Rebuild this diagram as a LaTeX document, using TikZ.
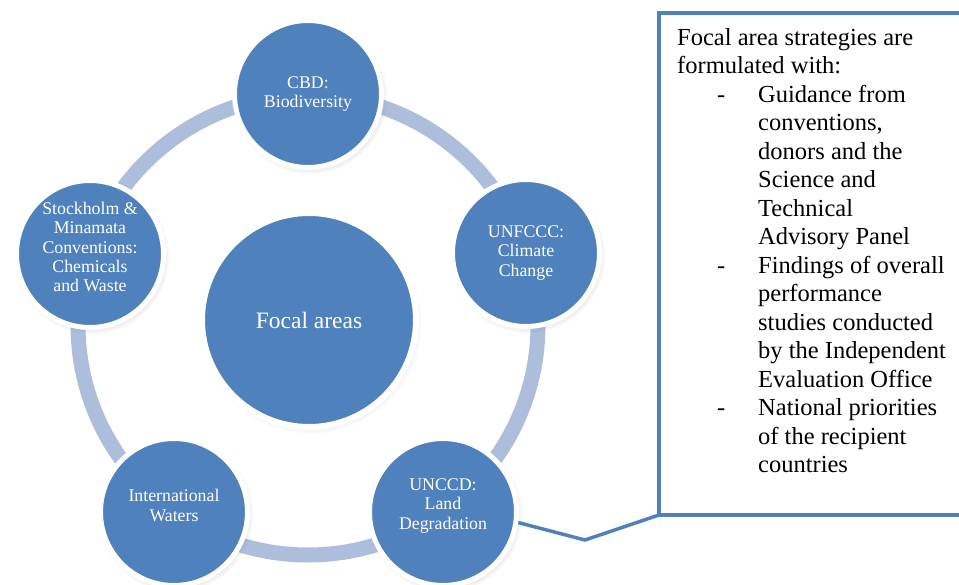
\documentclass[tikz,border=0pt]{standalone}
\usepackage{fontspec}
\setmainfont{Liberation Serif}
\usetikzlibrary{shadows}
\definecolor{gefblue}{RGB}{79,129,189}
\definecolor{ringblue}{RGB}{172,190,220}
\begin{document}
\begin{tikzpicture}[x=1pt,y=-1pt,
  outer/.style={circle, fill=gefblue, draw=white, line width=5pt, minimum size=147pt,
    inner sep=0pt, text=white, align=center, font=\fontsize{17.8}{19.2}\selectfont,
    circular drop shadow={shadow xshift=1.5pt, shadow yshift=-2.5pt, opacity=0.3, shadow scale=1.06}},
  hub/.style={circle, fill=gefblue, draw=white, line width=6pt, minimum size=214pt,
    inner sep=0pt, text=white, font=\fontsize{23.5}{27}\selectfont,
    circular drop shadow={shadow xshift=1.5pt, shadow yshift=-2.5pt, opacity=0.3, shadow scale=1.04}},
  ring/.style={line width=15pt, draw=ringblue},
  callout/.style={draw=gefblue, line width=3.5pt, outer sep=0pt, inner sep=0pt},
  pointer/.style={draw=gefblue, line width=3.5pt, line join=miter}
]
\useasboundingbox (0,0) rectangle (959,584);
\clip (0,0) rectangle (959,584);
\coordinate (mid) at (308,325);
\draw[ring] (mid) circle[radius=230pt];

\node[callout, minimum width=350pt, minimum height=502pt, anchor=north west] (box) at (659,13) {};
\coordinate (knee) at (585,540);

\node[outer] (unccd) at (443,512) {UNCCD:\\Land\\Degradation\\[-3pt]};
\draw[pointer] (unccd.-8) -- (knee) -- (box.south west);

\node[outer] (cbd) at (308,94) {CBD:\\Biodiversity};
\node[outer] (unfccc) at (526,253) {UNFCCC:\\Climate\\Change};
\node[outer] (iw) at (174,512) {International\\Waters\\[-6pt]};
\node[outer] (chem) at (90,254) {Stockholm \&\\Minamata\\Conventions:\\Chemicals\\and Waste\\[-5pt]};
\node[hub] (focal) at (309,320) {Focal areas};

\node[anchor=north west, inner sep=0pt, align=left, font=\fontsize{24.5}{28.5}\selectfont] (txt) at (677,28) {%
Focal area strategies are\\
formulated with:\\
\makebox[81pt][l]{\hspace*{40pt}-}Guidance from\\
\hspace*{81pt}conventions,\\
\hspace*{81pt}donors and the\\
\hspace*{81pt}Science and\\
\hspace*{81pt}Technical\\
\hspace*{81pt}Advisory Panel\\
\makebox[81pt][l]{\hspace*{40pt}-}Findings of overall\\
\hspace*{81pt}performance\\
\hspace*{81pt}studies conducted\\
\hspace*{81pt}by the Independent\\
\hspace*{81pt}Evaluation Office\\
\makebox[81pt][l]{\hspace*{40pt}-}National priorities\\
\hspace*{81pt}of the recipient\\
\hspace*{81pt}countries};
\end{tikzpicture}
\end{document}
